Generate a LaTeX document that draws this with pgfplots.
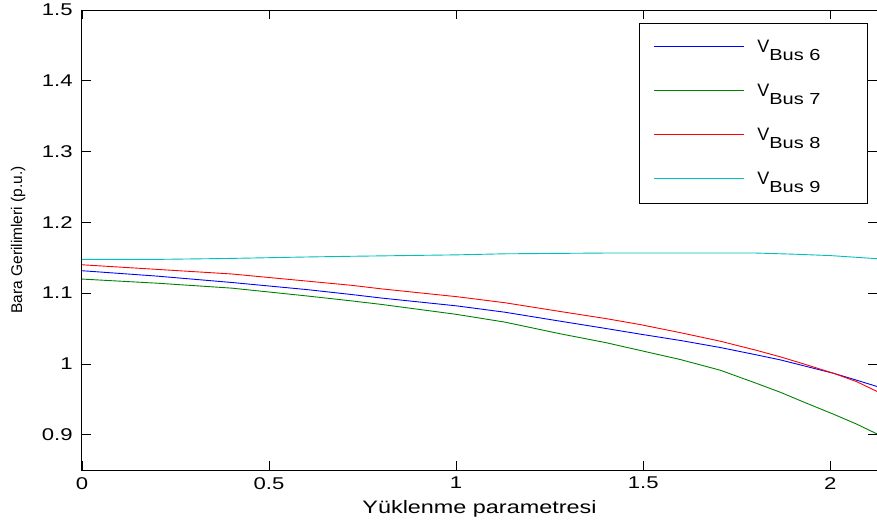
\documentclass[border=0pt]{standalone}
\usepackage{pgfplots}
\pgfplotsset{compat=1.18}
\usepackage{fontspec}
\setmainfont{Liberation Sans}
\definecolor{mblue}{rgb}{0,0,1}
\definecolor{mgreen}{rgb}{0,0.5,0}
\definecolor{mred}{rgb}{1,0,0}
\definecolor{mcyan}{rgb}{0,0.75,0.75}
\newcommand{\Vbus}[1]{\fontsize{18}{20}\selectfont V\raisebox{-8pt}{\scalebox{1.25}[1]{\fontsize{16}{18}\selectfont Bus #1}}\hspace*{31pt}}
\begin{document}
\begin{tikzpicture}
\path[use as bounding box] (-82pt,-53pt) rectangle (795pt,470pt);
\begin{axis}[
  at={(0,0)}, anchor=south west,
  scale only axis, width=795pt, height=460pt,
  xmin=0, xmax=2.125, ymin=0.85, ymax=1.5,
  xtick={0,0.5,1,1.5,2},
  ytick={0.9,1,1.1,1.2,1.3,1.4,1.5},
  /pgf/number format/assume math mode=true,
  tick label style={font=\fontsize{17}{20}\selectfont, xscale=1.3},
  yticklabel style={inner sep=7pt},
  xticklabel style={inner sep=7pt},
  major tick length=9pt,
  tick style={black, line width=0.6pt},
  axis line style={line width=1pt},
  xlabel={Yüklenme parametresi},
  xlabel style={font=\fontsize{18}{20}\selectfont, xscale=1.3, at={(ticklabel cs:0.5)}, anchor=north, yshift=-1pt},
  ylabel={Bara Gerilimleri (p.u.)},
  ylabel style={font=\fontsize{15.5}{17}\selectfont, at={(ticklabel cs:0.5)}, anchor=south, yshift=4pt},
  legend style={at={(rel axis cs:0.9887,0.9717)}, anchor=north east, draw=black, line width=1pt,
    inner xsep=14pt, inner ysep=15pt, row sep=26pt,
    /tikz/every odd column/.append style={column sep=11pt}},
  legend cell align=left,
  legend image code/.code={\draw[#1, line width=0.8pt] (0pt,1pt) -- (90pt,1pt);},
  every axis plot/.append style={line width=0.9pt},
]
\addplot[draw=mblue] coordinates {
(0,1.1316) (0.2,1.124) (0.4,1.115) (0.6,1.105) (0.72,1.098) (0.8,1.093) (1.0,1.082) (1.13,1.073) (1.278,1.0603) (1.4,1.050) (1.492,1.042) (1.6,1.033) (1.706,1.0231) (1.8,1.013) (1.866,1.0057) (1.92,0.9985) (2.008,0.9868) (2.07,0.977) (2.125,0.968)};
\addlegendentry{\Vbus{6}}
\addplot[draw=mgreen] coordinates {
(0,1.1198) (0.2,1.114) (0.4,1.107) (0.6,1.096) (0.72,1.089) (0.8,1.084) (1.0,1.070) (1.13,1.059) (1.278,1.0425) (1.4,1.030) (1.5,1.018) (1.6,1.006) (1.706,0.991) (1.8,0.973) (1.866,0.960) (1.92,0.948) (2.008,0.929) (2.07,0.915) (2.125,0.901)};
\addlegendentry{\Vbus{7}}
\addplot[draw=mred] coordinates {
(0,1.140) (0.2,1.1335) (0.4,1.127) (0.6,1.117) (0.72,1.111) (0.8,1.106) (1.0,1.095) (1.13,1.0864) (1.278,1.074) (1.4,1.064) (1.492,1.0555) (1.6,1.044) (1.706,1.032) (1.8,1.0195) (1.866,1.010) (1.92,1.0014) (2.008,0.9868) (2.07,0.975) (2.125,0.961)};
\addlegendentry{\Vbus{8}}
\addplot[draw=mcyan] coordinates {
(0,1.1476) (0.2,1.1476) (0.4,1.149) (0.6,1.151) (0.72,1.152) (1.0,1.154) (1.13,1.1555) (1.4,1.1566) (1.8,1.1566) (1.9,1.155) (2.0,1.153) (2.125,1.1486)};
\addlegendentry{\Vbus{9}}
\end{axis}
\end{tikzpicture}
\end{document}
